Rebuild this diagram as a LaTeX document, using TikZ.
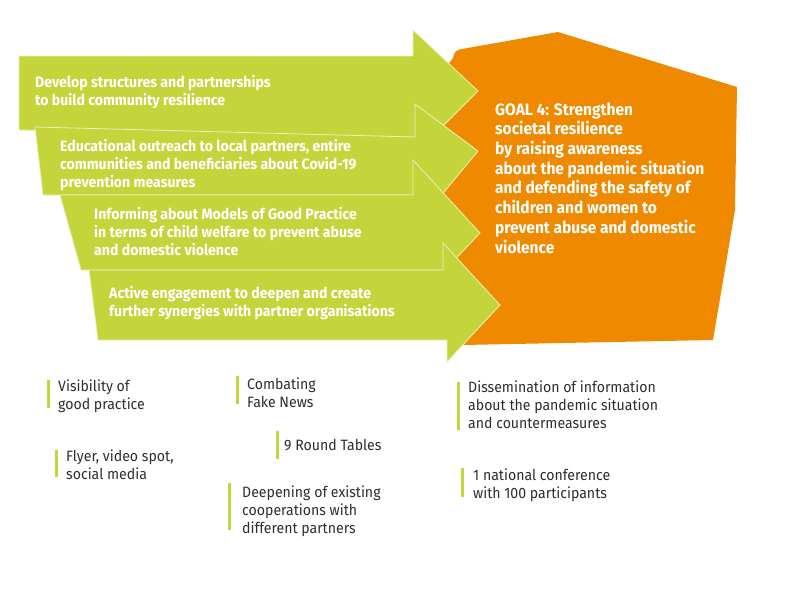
\documentclass[tikz,border=0pt]{standalone}
\usepackage{fontspec}
\setmainfont[FakeStretch=0.94]{Fira Sans}
\definecolor{lime}{RGB}{196,213,60}
\definecolor{goalorange}{RGB}{239,138,0}
\definecolor{txtgray}{RGB}{45,45,45}
\tikzset{
  arrowshape/.style={fill=lime, draw=white!65!lime, line width=0.8pt, line join=miter},
  arrowtext/.style={text=white, font=\bfseries\fontsize{15}{18}\selectfont, align=left, anchor=base west, inner sep=0pt},
  goaltext/.style={text=white, font=\bfseries\fontsize{16.5}{19.7}\selectfont, align=left, anchor=base west, inner sep=0pt},
  itemtext/.style={text=txtgray, font=\fontsize{15}{18}\selectfont, align=left, anchor=base west, inner sep=0pt},
  itembar/.style={fill=lime, draw=none}
}
\begin{document}
\begin{tikzpicture}[x=1pt, y=-1pt]
\useasboundingbox (0,0) rectangle (785,600);
% goal shape
\fill[goalorange] (440,75) -- (453,58) .. controls (454,52) and (456,50) .. (462,49)
  -- (558,32) -- (737,87) -- (735,210) -- (713,340) -- (463,345) -- (440,320) -- cycle;
% arrows
\draw[arrowshape] (19,56) -- (413,56) -- (413,30) -- (478,91) -- (432,137) -- (413,137) -- (19,130) -- cycle;
\draw[arrowshape] (35,127) -- (415,137) -- (415,104) -- (478,151) -- (440,197) -- (415,195) -- (43,195) -- cycle;
\draw[arrowshape] (60,195) -- (413,195) -- (413,160) -- (480,233) -- (447,268) -- (443,270) -- (81,270) -- cycle;
\draw[arrowshape] (89,270) -- (443,270) -- (443,243) -- (500,305) -- (447,362) -- (447,340) -- (98,340) -- cycle;
% arrow texts (anchored at the baseline of the last line)
\node[arrowtext] (t1) at (35,105) {Develop structures and partnerships\\to build community resilience};
\node[arrowtext] (t2) at (60,187) {Educational outreach to local partners, entire\\communities and beneficiaries about Covid-19\\prevention measures};
\node[arrowtext] (t3) at (94,255) {Informing about Models of Good Practice\\in terms of child welfare to prevent abuse\\and domestic violence};
\node[arrowtext] (t4) at (109,316) {Active engagement to deepen and create\\further synergies with partner organisations};
% goal text
\node[goaltext] (goal) at (495,253) {GOAL 4: Strengthen\\societal resilience\\by raising awareness\\about the pandemic situation\\and defending the safety of\\children and women to\\prevent abuse and domestic\\violence};
% bars
\fill[itembar] (46.5,380) rectangle (49.5,408);
\fill[itembar] (235.5,376) rectangle (238.5,404);
\fill[itembar] (275.5,431) rectangle (278.5,459);
\fill[itembar] (54.5,450) rectangle (57.5,477);
\fill[itembar] (227.5,483) rectangle (230.5,530);
\fill[itembar] (456.5,382) rectangle (459.5,430);
\fill[itembar] (460.5,468) rectangle (463.5,497);
% item texts
\node[itemtext] (vis) at (58,409) {Visibility of\\good practice};
\node[itemtext] (comb) at (247,407) {Combating\\Fake News};
\node[itemtext] (round) at (284,450) {9 Round Tables};
\node[itemtext] (flyer) at (66,479) {Flyer, video spot,\\social media};
\node[itemtext] (deep) at (242,533) {Deepening of existing\\cooperations with\\different partners};
\node[itemtext] (diss) at (468,428) {Dissemination of information\\about the pandemic situation\\and countermeasures};
\node[itemtext] (conf) at (473,498) {1 national conference\\with 100 participants};
\end{tikzpicture}
\end{document}
